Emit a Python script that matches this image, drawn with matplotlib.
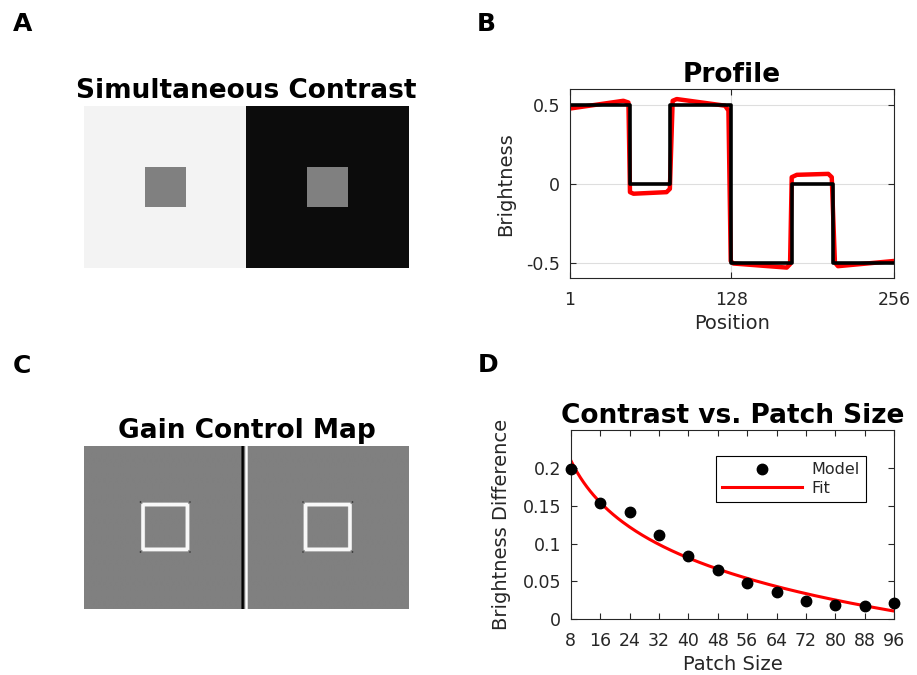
import numpy as np
import matplotlib
matplotlib.use("Agg")
import matplotlib.pyplot as plt

plt.rcParams['font.family'] = ['DejaVu Sans']

# ---------------- data ----------------
# Stimulus layout (image of 128 rows x 256 columns)
img_rows, img_cols = 128, 256
left_bg, right_bg, patch_level = 0.95, 0.05, 0.5
patch_rows = (48, 80)
patch_cols_left = (48, 80)
patch_cols_right = (176, 208)

# Profile: true stimulus brightness along the middle row
true_x = [1, 48, 48, 80, 80, 128, 128, 176, 176, 208, 208, 256]
true_y = [0.5, 0.5, 0.0, 0.0, 0.5, 0.5, -0.5, -0.5, 0.0, 0.0, -0.5, -0.5]

# Profile: model brightness output along the middle row
model_x = [1, 43, 47, 48.2, 51, 77, 79.6, 81.8, 85, 123, 125.7, 127.5,
           129.6, 171.6, 174.2, 175.5, 179.5, 204.3, 207, 209.5, 211.9, 256]
model_y = [0.478, 0.527, 0.516, -0.053, -0.063, -0.053, -0.032, 0.527, 0.538,
           0.496, 0.465, -0.49, -0.506, -0.532, -0.51, 0.042, 0.057, 0.063,
           0.042, -0.50, -0.523, -0.49]

# Contrast effect vs. patch size
patch_size = [8, 16, 24, 32, 40, 48, 56, 64, 72, 80, 88, 96]
brightness_diff = [0.198, 0.153, 0.142, 0.111, 0.084, 0.065, 0.048, 0.036,
                   0.024, 0.019, 0.017, 0.021]

# Gain control map levels
gain_bg, gain_ring, gain_corner = 0.5, 0.97, 0.1
edge_dark_cols, edge_light_cols = (124, 126), (127, 129)
ring_width = 3

# ---------------- figure ----------------
fig = plt.figure(figsize=(9.17, 6.75), dpi=100)
W, H = 917.0, 675.0

def ax_rect(l, t, r, b):
    return [l / W, 1 - b / H, (r - l) / W, (b - t) / H]

axis_color = (0.15, 0.15, 0.15)
tick_fs, label_fs, title_fs, letter_fs = 12.5, 14, 19, 18

def style_axes(ax):
    for s in ax.spines.values():
        s.set_color(axis_color)
        s.set_linewidth(0.8)
    ax.tick_params(direction='in', length=4, width=0.8, colors=axis_color,
                   labelsize=tick_fs, top=True, right=True)
    ax.tick_params(axis='x', pad=9)
    ax.tick_params(axis='y', pad=7)
    for lbl in ax.get_xticklabels() + ax.get_yticklabels():
        lbl.set_color(axis_color)

# Panel A: simultaneous contrast stimulus
stim = np.full((img_rows, img_cols), left_bg)
stim[:, img_cols // 2:] = right_bg
stim[patch_rows[0]:patch_rows[1], patch_cols_left[0]:patch_cols_left[1]] = patch_level
stim[patch_rows[0]:patch_rows[1], patch_cols_right[0]:patch_cols_right[1]] = patch_level

axA = fig.add_axes(ax_rect(84, 106, 409, 268))
axA.imshow(stim, cmap='gray', vmin=0, vmax=1, aspect='auto',
           interpolation='nearest')
axA.set_axis_off()
axA.set_title('Simultaneous Contrast', fontsize=title_fs, fontweight='bold',
              pad=6)

# Panel C: gain control map
gain = np.full((img_rows, img_cols), gain_bg)
gain[:, edge_dark_cols[0]:edge_dark_cols[1]] = 0.0
gain[:, edge_light_cols[0]:edge_light_cols[1]] = 1.0
w = ring_width
for c0, c1 in (patch_cols_left, patch_cols_right):
    r0, r1 = patch_rows
    # bright ring just outside the patch border
    gain[r0 - w:r1 + w, c0 - w:c0] = gain_ring
    gain[r0 - w:r1 + w, c1:c1 + w] = gain_ring
    gain[r0 - w:r0, c0 - w:c1 + w] = gain_ring
    gain[r1:r1 + w, c0 - w:c1 + w] = gain_ring
    # rounded corners with dark dots outside
    for rr, cc, dr, dc in ((r0 - w, c0 - w, -1, -1), (r0 - w, c1 + w - 1, -1, 1),
                           (r1 + w - 1, c0 - w, 1, -1), (r1 + w - 1, c1 + w - 1, 1, 1)):
        gain[rr, cc] = gain_bg
        gain[rr + dr, cc + dc] = gain_corner

axC = fig.add_axes(ax_rect(84, 446, 409, 609.5))
axC.imshow(gain, cmap='gray', vmin=0, vmax=1, aspect='auto',
           interpolation='bilinear')
axC.set_axis_off()
axC.set_title('Gain Control Map', fontsize=title_fs, fontweight='bold', pad=6)

# Panel B: brightness profile
axB = fig.add_axes(ax_rect(570, 89.3, 894, 278.3))
axB.plot(model_x, model_y, color='red', lw=3.2, solid_joinstyle='round')
axB.plot(true_x, true_y, color='black', lw=2.6)
axB.set_xlim(1, 256)
axB.set_ylim(-0.6, 0.6)
axB.set_xticks([1, 128, 256])
axB.set_yticks([-0.5, 0, 0.5])
axB.set_yticklabels(['-0.5', '0', '0.5'])
axB.grid(True, color=axis_color, alpha=0.15, lw=0.8)
axB.set_axisbelow(True)
style_axes(axB)
axB.set_xlabel('Position', fontsize=label_fs, color=axis_color, labelpad=4)
axB.set_ylabel('Brightness', fontsize=label_fs, color=axis_color, labelpad=8)
axB.set_title('Profile', fontsize=title_fs, fontweight='bold', pad=5)

# Panel D: contrast effect vs. patch size with logarithmic fit
axD = fig.add_axes(ax_rect(570.7, 430, 894.3, 619.3))
ps = np.array(patch_size, dtype=float)
bd = np.array(brightness_diff)
slope, intercept = np.polyfit(np.log(ps), bd, 1)
fit_x = np.linspace(ps.min(), ps.max(), 200)
fit_y = intercept + slope * np.log(fit_x)
axD.plot(ps, bd, 'o', color='black', ms=7.5, label='Model', zorder=3,
         clip_on=False)
axD.plot(fit_x, fit_y, color='red', lw=2.2, label='Fit', zorder=2)
axD.set_xlim(8, 96)
axD.set_ylim(0, 0.25)
axD.set_xticks(patch_size)
axD.set_yticks([0, 0.05, 0.1, 0.15, 0.2])
axD.set_yticklabels(['0', '0.05', '0.1', '0.15', '0.2'])
style_axes(axD)
axD.set_xlabel('Patch Size', fontsize=label_fs, color=axis_color, labelpad=4)
axD.set_ylabel('Brightness Difference', fontsize=label_fs, color=axis_color,
               labelpad=8)
axD.set_title('Contrast vs. Patch Size', fontsize=title_fs, fontweight='bold',
              pad=5)
leg = axD.legend(loc='upper left', bbox_to_anchor=(0.449, 0.863),
                 borderaxespad=0, fontsize=11.5, handlelength=5.0,
                 handletextpad=0.6, borderpad=0.4, labelspacing=0.2,
                 numpoints=1, fancybox=False, edgecolor='black',
                 framealpha=1)
leg.get_frame().set_linewidth(0.8)
for t in leg.get_texts():
    t.set_color(axis_color)

# Panel letters
for letter, x, y in (('A', 13, 31), ('B', 477, 31), ('C', 13, 373),
                     ('D', 478, 372)):
    fig.text(x / W, 1 - y / H, letter, fontsize=letter_fs, fontweight='bold',
             va='baseline', ha='left')

fig.savefig('out.png', dpi=100)
